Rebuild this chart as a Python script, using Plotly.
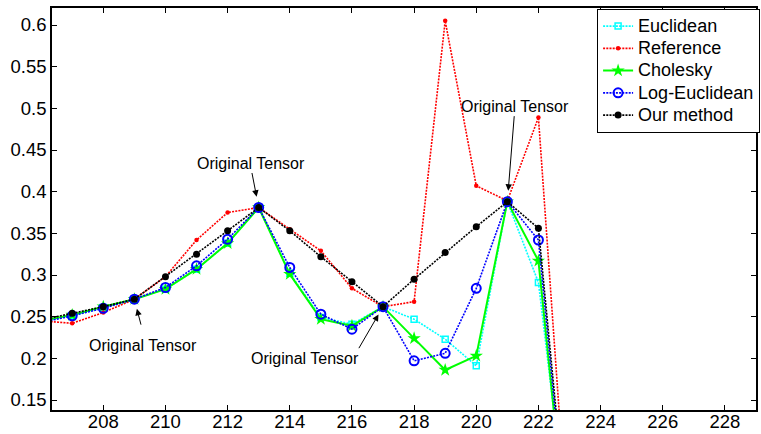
import plotly.graph_objects as go

x_vals = list(range(206, 224))
euclidean = [0.244, 0.251, 0.261, 0.271, 0.283, 0.307, 0.338, 0.381, 0.302, 0.249,
             0.241, 0.262, 0.247, 0.223, 0.191, 0.388, 0.291, -0.021]
reference = [0.245, 0.242, 0.255, 0.271, 0.298, 0.342, 0.375, 0.381, 0.355, 0.329,
             0.284, 0.262, 0.268, 0.605, 0.407, 0.389, 0.489, -0.04]
cholesky = [0.245, 0.252, 0.262, 0.271, 0.283, 0.307, 0.338, 0.381, 0.301, 0.247,
            0.239, 0.262, 0.224, 0.186, 0.203, 0.388, 0.317, -0.046]
log_euclidean = [0.243, 0.251, 0.260, 0.271, 0.285, 0.311, 0.343, 0.381, 0.309, 0.253,
                 0.235, 0.262, 0.197, 0.206, 0.284, 0.388, 0.342, -0.04]
our_method = [0.246, 0.254, 0.262, 0.271, 0.298, 0.325, 0.353, 0.381, 0.353, 0.322,
              0.292, 0.262, 0.295, 0.327, 0.358, 0.388, 0.356, -0.03]

series_names = ["Euclidean", "Reference", "Cholesky", "Log-Euclidean", "Our method"]

x_ticks = [208, 210, 212, 214, 216, 218, 220, 222, 224, 226, 228]
y_ticks = [0.15, 0.2, 0.25, 0.3, 0.35, 0.4, 0.45, 0.5, 0.55, 0.6]
y_tick_labels = ["0.15", "0.2", "0.25", "0.3", "0.35", "0.4", "0.45", "0.5", "0.55", "0.6"]

annot_x = [209, 213, 217, 221]
annot_y = [0.271, 0.381, 0.262, 0.388]
annot_text = "Original Tensor"

FONT = "Liberation Sans, Arial, sans-serif"
DOT = "2px,1.2px"


def lg(name):
    return '<span style="font-size:18px">' + name + '</span>'


fig = go.Figure()
fig.add_trace(go.Scatter(x=x_vals, y=euclidean, name=lg(series_names[0]), mode="lines+markers",
                         line=dict(color="#00FFFF", width=1.6, dash=DOT),
                         marker=dict(symbol="square-open", size=6, color="#00FFFF",
                                     line=dict(width=1.5, color="#00FFFF"))))
fig.add_trace(go.Scatter(x=x_vals, y=reference, name=lg(series_names[1]), mode="lines+markers",
                         line=dict(color="#FF0000", width=1.6, dash=DOT),
                         marker=dict(symbol="circle", size=4.5, color="#FF0000")))
fig.add_trace(go.Scatter(x=x_vals, y=cholesky, name=lg(series_names[2]), mode="lines+markers",
                         line=dict(color="#00FF00", width=2),
                         marker=dict(symbol="star", size=10, color="#00FF00")))
fig.add_trace(go.Scatter(x=x_vals, y=log_euclidean, name=lg(series_names[3]), mode="lines+markers",
                         line=dict(color="#0000FF", width=1.6, dash=DOT),
                         marker=dict(symbol="circle-open", size=9, color="#0000FF",
                                     line=dict(width=2, color="#0000FF"))))
fig.add_trace(go.Scatter(x=x_vals, y=our_method, name=lg(series_names[4]), mode="lines+markers",
                         line=dict(color="#000000", width=1.6, dash=DOT),
                         marker=dict(symbol="circle", size=7, color="#000000")))

# arrows (tail offsets in pixels relative to the data point) and texts
arrow_ax = [7, -7, -25, 7]
arrow_ay = [27, -36, 43, -87]
arrow_standoff = [10, 11, 9, 11]
text_dx = [9, -8, -78, 8]
text_dy = [-46, 44, -52, 95]

for i in range(len(annot_x)):
    fig.add_annotation(x=annot_x[i], y=annot_y[i], xref="x", yref="y", text="",
                       showarrow=True, ax=arrow_ax[i], ay=arrow_ay[i],
                       arrowhead=2, arrowsize=1.3, arrowwidth=1, arrowcolor="black",
                       standoff=arrow_standoff[i])
    fig.add_annotation(x=annot_x[i], y=annot_y[i], xref="x", yref="y", text=annot_text,
                       showarrow=False, xshift=text_dx[i], yshift=text_dy[i],
                       font=dict(family=FONT, size=16, color="black"))

axis_common = dict(showline=True, linecolor="black", linewidth=1.5, mirror="ticks",
                   ticks="inside", ticklen=5, tickwidth=1, tickcolor="black",
                   showgrid=False, zeroline=False, automargin=False,
                   tickfont=dict(family=FONT, size=18.5, color="black"))

fig.update_xaxes(range=[206.35, 229], tickvals=x_ticks, ticklabelstandoff=-6, **axis_common)
fig.update_yaxes(range=[0.138, 0.6204], tickvals=y_ticks, ticktext=y_tick_labels, **axis_common)

fig.update_layout(
    width=761, height=434,
    margin=dict(l=52, r=1, t=8, b=24),
    paper_bgcolor="white", plot_bgcolor="white",
    showlegend=True,
    legend=dict(x=0.774, y=0.998, xanchor="left", yanchor="top",
                bgcolor="white", bordercolor="black", borderwidth=1.2,
                font=dict(family=FONT, size=14.8, color="black"),
                itemwidth=30, tracegroupgap=0),
    font=dict(family=FONT),
)

fig.write_html("out.html", config={"displayModeBar": False},
               post_script="document.body.style.margin='0px';")
